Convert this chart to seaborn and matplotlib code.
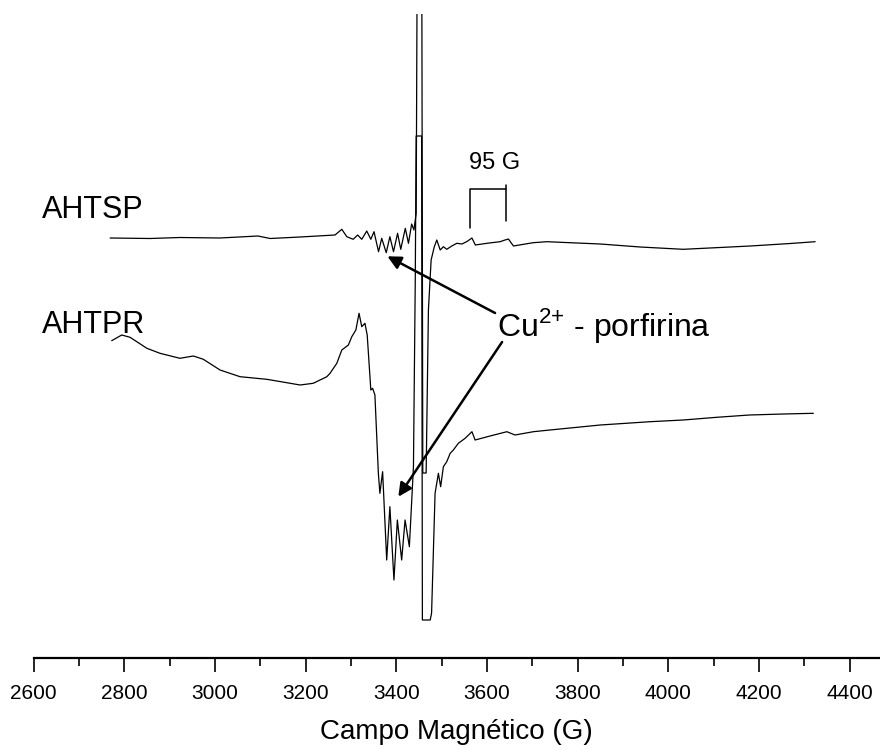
import numpy as np
import pandas as pd
import matplotlib
matplotlib.use("Agg")
import matplotlib.pyplot as plt
import seaborn as sns

ahtsp_campo = [2769, 2857, 2923, 3011, 3095, 3122, 3188, 3265, 3280, 3291, 3305, 3315,
               3324, 3335, 3344, 3351, 3361, 3368, 3378, 3386, 3394, 3403, 3410, 3420,
               3427, 3434, 3439, 3444, 3448, 3455.5, 3458.6, 3466, 3471, 3477, 3484,
               3489.5, 3497, 3504, 3511.5, 3522.5, 3533.6, 3545, 3556, 3567, 3574.5,
               3600, 3629, 3640, 3647.5, 3658.5, 3702, 3732, 3850, 3938, 4033, 4114,
               4181, 4269, 4324]
ahtsp_int = [420, 419.5, 420.5, 420, 422, 419.5, 421, 423, 428.7, 421.3, 418.7, 423,
             418.7, 427, 418.7, 426.3, 406.3, 419.7, 405.3, 421.3, 406.3, 424.7, 408.7, 429.7,
             414.7, 434, 428, 444.7, 900, 900, 185, 185, 348, 398, 411.3,
             418, 408, 411.3, 408.7, 412, 414.7, 414, 416.5, 420, 413,
             414.7, 416.3, 418, 419, 412, 415.3, 416.3, 414, 411, 408.7, 410.5,
             412, 414.5, 416.3]

ahtpr_campo = [2772.5, 2794.6, 2813, 2850, 2879, 2923, 2952.5, 2974.6, 3011.4, 3055.5,
               3114.4, 3158.6, 3188, 3217, 3232, 3247, 3254, 3269, 3280, 3294.5, 3302,
               3311, 3318, 3324, 3331, 3336, 3344, 3348, 3353, 3360.6, 3364, 3370, 3379,
               3386, 3395, 3402.5, 3412, 3419.5, 3429, 3438, 3442, 3444, 3456, 3457.7,
               3475, 3478, 3485.7, 3493, 3498, 3504, 3511.5, 3519, 3526, 3537, 3552,
               3567, 3574, 3607, 3644, 3662, 3702.5, 3739, 3850, 3960, 4033, 4107,
               4179, 4254, 4320]
ahtpr_int = [317.3, 323, 320.7, 309.7, 304.7, 299.7, 302, 298.7, 288, 281.3,
             278.7, 275.3, 273, 274.7, 278, 281.3, 284.7, 294.7, 308, 313, 321.3,
             328, 344.7, 331.3, 334.7, 323, 268, 269.7, 263, 184.7, 164.7, 186.3, 98,
             151.3, 78, 138, 98, 138, 111.3, 191.3, 378, 522, 522, 38,
             38, 45, 164.7, 184.7, 171.3, 191.3, 196.3, 204.7, 208, 214.7, 219.7,
             226.3, 218, 222, 226.3, 223, 226.3, 228, 233, 236.3, 238, 240.7,
             243, 244, 244.7]

linhas_hf = [3562, 3643]  # linhas hiperfinas marcadas (95 G)

sns.set_theme(style="white")
plt.rcParams["font.family"] = ["Liberation Sans", "DejaVu Sans"]
plt.rcParams["mathtext.fontset"] = "custom"
plt.rcParams["mathtext.rm"] = "Liberation Sans"
plt.rcParams["text.color"] = "black"
plt.rcParams["axes.labelcolor"] = "black"
plt.rcParams["xtick.color"] = "black"

fig = plt.figure(figsize=(8.8, 7.49), dpi=100)
ax = fig.add_axes([33.5 / 880, 91 / 749, 846.5 / 880, 644 / 749])

for campo, inten in [(ahtsp_campo, ahtsp_int), (ahtpr_campo, ahtpr_int)]:
    df = pd.DataFrame({"campo": campo, "int": inten})
    sns.lineplot(data=df, x="campo", y="int", sort=False, estimator=None,
                 color="black", lw=0.9, ax=ax)

ax.set_xlim(2600, 4467)
ax.set_ylim(0, 644)
ax.set_xticks(np.arange(2600, 4401, 200))
ax.set_xticks(np.arange(2700, 4401, 200), minor=True)
ax.set_yticks([])
ax.set_ylabel("")
ax.set_xlabel("Campo Magnético (G)", fontsize=20, labelpad=11)
for s in ["left", "right", "top"]:
    ax.spines[s].set_visible(False)
ax.spines["bottom"].set_linewidth(1.6)
ax.spines["bottom"].set_color("black")
ax.tick_params(axis="x", which="major", length=10, width=1.2, direction="out",
               labelsize=15, pad=9, bottom=True)
ax.tick_params(axis="x", which="minor", length=6, width=1.2, direction="out",
               bottom=True)

ax.text(2619, 448, "AHTSP", fontsize=22, ha="left", va="center")
ax.text(2619, 333, "AHTPR", fontsize=22, ha="left", va="center")

# marcador 95 G
ax.plot([linhas_hf[0], linhas_hf[0], linhas_hf[1]], [429.7, 468.7, 468.7], color="black", lw=1.1)
ax.plot([linhas_hf[1], linhas_hf[1]], [437, 473], color="black", lw=1.1)
ax.text(sum(linhas_hf) / 2 + 15, 495, "95 G", fontsize=17, ha="center", va="center")

ax.text(3622, 322, r"Cu$^{2{+}}$ - porfirina", fontsize=23, ha="left", va="baseline")
seta = dict(arrowstyle="-|>", lw=1.8, color="black", mutation_scale=20, shrinkA=0, shrinkB=0)
ax.annotate("", xy=(3380.5, 401.7), xytext=(3618, 345), arrowprops=seta)
ax.annotate("", xy=(3404.7, 161.3), xytext=(3633.5, 316), arrowprops=seta)

fig.savefig("out.png", dpi=100)
